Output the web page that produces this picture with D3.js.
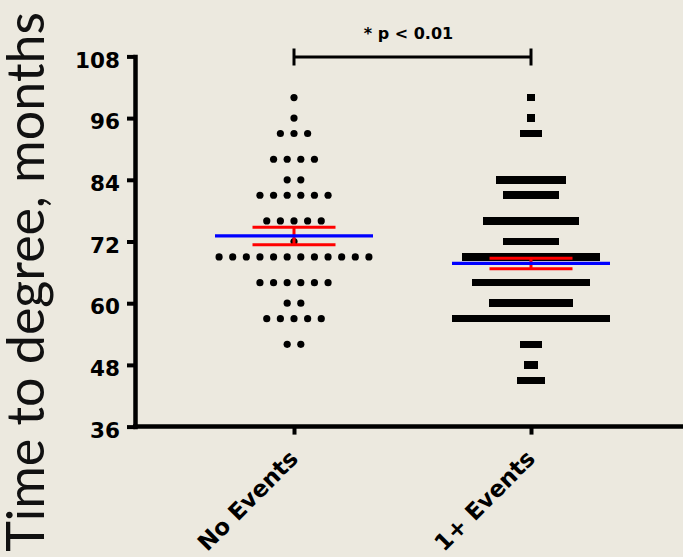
<!DOCTYPE html>
<html>
<head>
<meta charset="utf-8">
<script src="https://cdn.jsdelivr.net/npm/d3@7"></script>
<style>
  html, body { margin: 0; padding: 0; background: #ECE9DF; }
  svg { display: block; }
</style>
</head>
<body>
<svg id="chart" width="683" height="557"></svg>
<script>
// ---------------- data ----------------
const categories = ["No Events", "1+ Events"];
const levels = [100, 96, 93, 88, 84, 81, 76, 72, 69, 64, 60, 57, 52, 48, 45];
const countsNoEvents = [1, 1, 3, 4, 2, 6, 5, 1, 12, 6, 2, 5, 2, 0, 0];
const countsEvents   = [1, 1, 3, 0, 10, 8, 14, 8, 20, 17, 12, 23, 3, 2, 4];
const yTicks = [36, 48, 60, 72, 84, 96, 108];
const yTitle = "Time to degree, months";
const annotation = "* p < 0.01";

// ---------------- layout ----------------
const W = 683, H = 557;
const bg = "#ECE9DF";
const svg = d3.select("#chart");
svg.append("rect").attr("width", W).attr("height", H).attr("fill", bg);

const y = d3.scaleLinear().domain([36, 108]).range([426.6, 56.4]);
const x = d3.scalePoint().domain(categories).range([294, 531]);
const axisX0 = 135;

const groups = [
  { name: categories[0], counts: countsNoEvents, shape: "circle", step: 13.62 },
  { name: categories[1], counts: countsEvents, shape: "square", step: 6.87 }
];

// expand into points
groups.forEach(g => {
  g.points = [];
  g.values = [];
  levels.forEach((v, i) => {
    const n = g.counts[i];
    for (let k = 0; k < n; k++) {
      g.points.push({ v, off: (k - (n - 1) / 2) * g.step });
      g.values.push(v);
    }
  });
  g.mean = d3.mean(g.values);
  g.sem = d3.deviation(g.values) / Math.sqrt(g.values.length);
});

// ---------------- axes ----------------
const yAxis = d3.axisLeft(y).tickValues(yTicks).tickSize(8).tickSizeOuter(0).tickPadding(7);
const gy = svg.append("g").attr("transform", `translate(${axisX0},0)`).call(yAxis);
gy.select(".domain").attr("stroke", "#000").attr("stroke-width", 4.5).attr("stroke-linecap", "square");
gy.selectAll(".tick line").attr("stroke", "#000").attr("stroke-width", 4);
gy.selectAll(".tick text")
  .attr("fill", "#000")
  .attr("dy", "0.5em")
  .style("font-family", "'DejaVu Sans', Verdana, sans-serif")
  .style("font-weight", "bold")
  .style("font-size", "21.5px");

const xAxis = d3.axisBottom(x).tickSize(8).tickSizeOuter(0).tickFormat("");
const gx = svg.append("g").attr("transform", `translate(0,${y(36)})`).call(xAxis);
gx.select(".domain").attr("d", `M${axisX0 - 2},0H${W}`).attr("stroke", "#000").attr("stroke-width", 4.5);
gx.selectAll(".tick line").attr("stroke", "#000").attr("stroke-width", 4);

// rotated category labels
svg.append("g").selectAll("text")
  .data(categories)
  .join("text")
  .attr("transform", d => `translate(${x(d) + 5.5},${y(36) + 33.5}) rotate(-45)`)
  .attr("text-anchor", "end")
  .attr("fill", "#000")
  .style("font-family", "'DejaVu Sans', Verdana, sans-serif")
  .style("font-weight", "bold")
  .style("font-size", "23px")
  .text(d => d);

// y axis title
const title = svg.append("text")
  .attr("transform", `translate(44,12) rotate(-90)`)
  .attr("text-anchor", "end")
  .attr("fill", "#111")
  .style("font-family", "Lato, 'Open Sans', sans-serif")
  .style("font-size", "50px")
  .text(yTitle);
{
  const len = title.node().getComputedTextLength();
  const target = 540;
  title.style("font-size", (50 * target / len) + "px");
}

// ---------------- points ----------------
groups.forEach(g => {
  const cx = x(g.name);
  const layer = svg.append("g");
  if (g.shape === "circle") {
    layer.selectAll("circle").data(g.points).join("circle")
      .attr("cx", d => cx + d.off)
      .attr("cy", d => y(d.v))
      .attr("r", 3.6)
      .attr("fill", "#000");
  } else {
    const s = 7.6;
    layer.attr("shape-rendering", "crispEdges");
    layer.selectAll("rect").data(g.points).join("rect")
      .attr("x", d => cx + d.off - s / 2)
      .attr("y", d => y(d.v) - s / 2)
      .attr("width", s)
      .attr("height", s)
      .attr("fill", "#000");
  }
});

// ---------------- mean & SEM ----------------
groups.forEach(g => {
  const cx = x(g.name);
  const lay = svg.append("g");
  const hi = y(g.mean + g.sem), lo = y(g.mean - g.sem);
  lay.append("line").attr("x1", cx).attr("x2", cx).attr("y1", hi).attr("y2", lo)
    .attr("stroke", "#FF0000").attr("stroke-width", 3);
  [hi, lo].forEach(yy => {
    lay.append("line").attr("x1", cx - 41.5).attr("x2", cx + 41.5).attr("y1", yy).attr("y2", yy)
      .attr("stroke", "#FF0000").attr("stroke-width", 3);
  });
  lay.append("line").attr("x1", cx - 79).attr("x2", cx + 79)
    .attr("y1", y(g.mean)).attr("y2", y(g.mean))
    .attr("stroke", "#0000FF").attr("stroke-width", 3.3);
});

// ---------------- significance bracket ----------------
const bx1 = x(categories[0]), bx2 = x(categories[1]);
const by = 57;
const br = svg.append("g").attr("stroke", "#000").attr("stroke-width", 3);
br.append("line").attr("x1", bx1).attr("x2", bx2).attr("y1", by).attr("y2", by);
br.append("line").attr("x1", bx1).attr("x2", bx1).attr("y1", by - 8.5).attr("y2", by + 8.5);
br.append("line").attr("x1", bx2).attr("x2", bx2).attr("y1", by - 8.5).attr("y2", by + 8.5);
svg.append("text")
  .attr("x", (bx1 + bx2) / 2 - 4)
  .attr("y", 38.5)
  .attr("text-anchor", "middle")
  .attr("fill", "#000")
  .style("font-family", "'DejaVu Sans', Verdana, sans-serif")
  .style("font-weight", "bold")
  .style("font-size", "16px")
  .text(annotation);
</script>
</body>
</html>
